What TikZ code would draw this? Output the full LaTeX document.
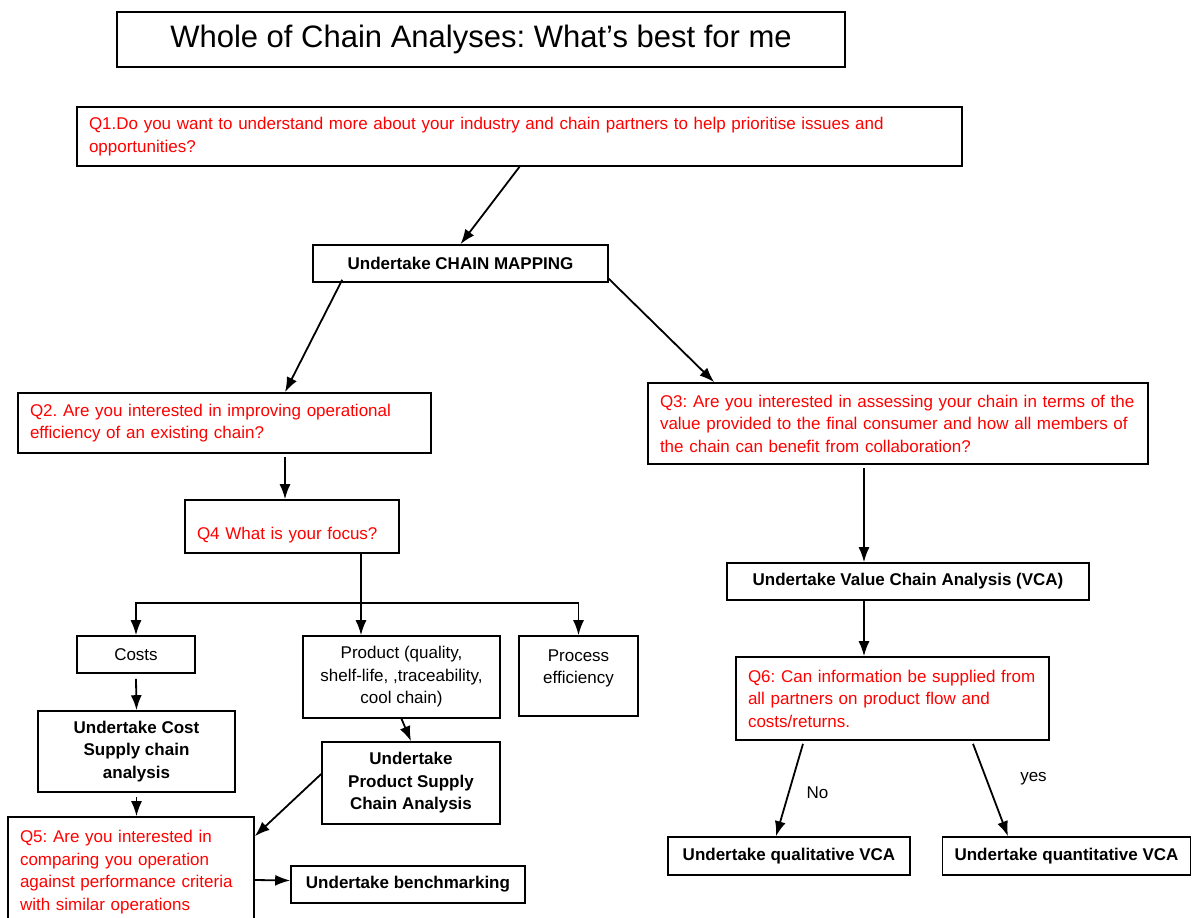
\documentclass[tikz,border=0pt]{standalone}
\usepackage{fontspec}
\setmainfont{Liberation Sans}
\usetikzlibrary{arrows.meta,calc}
\frenchspacing
\begin{document}
\begin{tikzpicture}[x=1pt,y=1pt,
  every node/.style={font=\fontsize{17}{22.5}\selectfont},
  box/.style={draw=black, line width=1.6pt, fill=white, inner xsep=12pt, inner ysep=2pt},
  qbox/.style={box, text=red, align=left},
  abox/.style={box, align=center, font=\fontsize{17}{22.5}\selectfont\bfseries},
  pbox/.style={box, align=center},
  arr/.style={line width=1.8pt, -{Latex[length=15pt,width=11pt]}},
  lin/.style={line width=1.8pt},
  lbl/.style={font=\fontsize{17}{20}\selectfont}
]
\useasboundingbox (0,0) rectangle (1197,-918);
\clip (0,0) rectangle (1197,-918);

% title
\node[box, minimum width=728pt, minimum height=55pt, font=\fontsize{31}{36}\selectfont] (title) at (481,-39.5) {Whole of Chain Analyses: What’s best for me};

% questions
\node[qbox, minimum width=885pt, minimum height=59pt, text width=861pt] (q1) at (519.5,-136.5)
 {\mbox{Q1.Do you want to understand more about your industry and chain partners to help prioritise issues and}\\opportunities?};
\node[abox, minimum width=295pt, minimum height=37pt] (cm) at (460.5,-263.5) {Undertake CHAIN MAPPING};
\node[qbox, minimum width=413pt, minimum height=60pt, text width=389pt] (q2) at (224.5,-423)
 {\mbox{Q2. Are you interested in improving operational}\\\mbox{efficiency of an existing chain?}};
\node[qbox, minimum width=500pt, minimum height=81pt, text width=476pt] (q3) at (898,-423.5)
 {\mbox{Q3: Are you interested in assessing your chain in terms of the}\\\mbox{value provided to the final consumer and how all members of}\\\mbox{the chain can benefit from collaboration?}};
\node[qbox, minimum width=214pt, minimum height=53pt, text width=190pt, text height=28pt, text depth=3pt] (q4) at (292,-526.5)
 {\mbox{Q4 What is your focus?}};

% focus options
\node[pbox, minimum width=118pt, minimum height=37pt] (costs) at (136,-654.5) {Costs};
\node[pbox, minimum width=197pt, minimum height=82pt] (product) at (401.5,-677)
 {Product (quality,\\shelf-life, ,traceability,\\cool chain)};
\node[pbox, minimum width=119pt, minimum height=80pt] (process) at (578.5,-676)
 {Process\\efficiency\\[-4pt]\mbox{}};
\node[abox, minimum width=197pt, minimum height=81pt] (csca) at (136.5,-751.5)
 {Undertake Cost\\Supply chain\\analysis};
\node[abox, minimum width=178pt, minimum height=82pt] (psca) at (411,-783)
 {Undertake\\Product Supply\\Chain Analysis};
\node[qbox, minimum width=246pt, minimum height=125pt, text width=222pt] (q5) at (131,-879.5)
 {\mbox{Q5: Are you interested in}\\\mbox{comparing you operation}\\\mbox{against performance criteria}\\\mbox{with similar operations}\\[-4pt]\mbox{}};
\node[abox, minimum width=234pt, minimum height=37pt] (bench) at (408,-884.5) {Undertake benchmarking};

% value chain side
\node[abox, minimum width=362pt, minimum height=37pt] (vca) at (908,-581.5) {Undertake Value Chain Analysis (VCA)};
\node[qbox, minimum width=313pt, minimum height=83pt, text width=289pt] (q6) at (892.5,-698.5)
 {\mbox{Q6: Can information be supplied from}\\\mbox{all partners on product flow and}\\\mbox{costs/returns.}};
\node[abox, minimum width=242pt, minimum height=38pt] (qual) at (789,-856) {Undertake qualitative VCA};
\node[abox, minimum width=247pt, minimum height=38pt] (quant) at (1066.5,-856) {Undertake quantitative VCA};

% connectors
\draw[arr] (q1.south) -- (cm.north);
\draw[arr] ($(cm.south west)+(30,3)$) -- ($(q2.north)+(60.5,0)$);
\draw[arr] ($(cm.south east)+(0,4)$) -- ($(q3.north west)+(67,0)$);
\draw[arr] ($(q2.south)+(60.5,-3)$) -- ($(q4.north)+(-7,0)$);

\coordinate (bus) at ($(q4.south)+(69,-49)$);
\draw[lin] ($(q4.south)+(69,0)$) -- (bus);
\draw[arr] (bus) -- ($(product.north)+(-40.5,0)$);
\draw[arr] (bus) -| (costs.north);
\draw[arr] (bus) -| (process.north);

\draw[arr] ($(costs.south)+(0,-5)$) -- (csca.north);
\draw[arr] ($(csca.south)+(0,-4)$) -- (csca.south |- q5.north);
\draw[arr] (product.south) -- (psca.north);
\draw[arr] ($(psca.west)+(0,9)$) -- ($(q5.north east)+(0,-20)$);
\draw[arr] ($(q5.east)+(0,-0.5)$) -- ($(bench.west)+(0,4)$);

\draw[arr] ($(q3.south)+(-34,-3)$) -- ($(vca.north)+(-44,0)$);
\draw[arr] ($(vca.south)+(-44,0)$) -- ($(q6.north)+(-28.5,0)$);
\draw[arr] ($(q6.south)+(-89.5,-3)$) -- node[lbl, midway, xshift=28pt, yshift=-3pt] (no) {No} ($(qual.north)+(-13,0)$);
\draw[arr] ($(q6.south)+(80.5,-3)$) -- node[lbl, midway, xshift=43pt, yshift=11pt] (yes) {yes} ($(quant.north)+(-58.5,0)$);
\end{tikzpicture}
\end{document}
